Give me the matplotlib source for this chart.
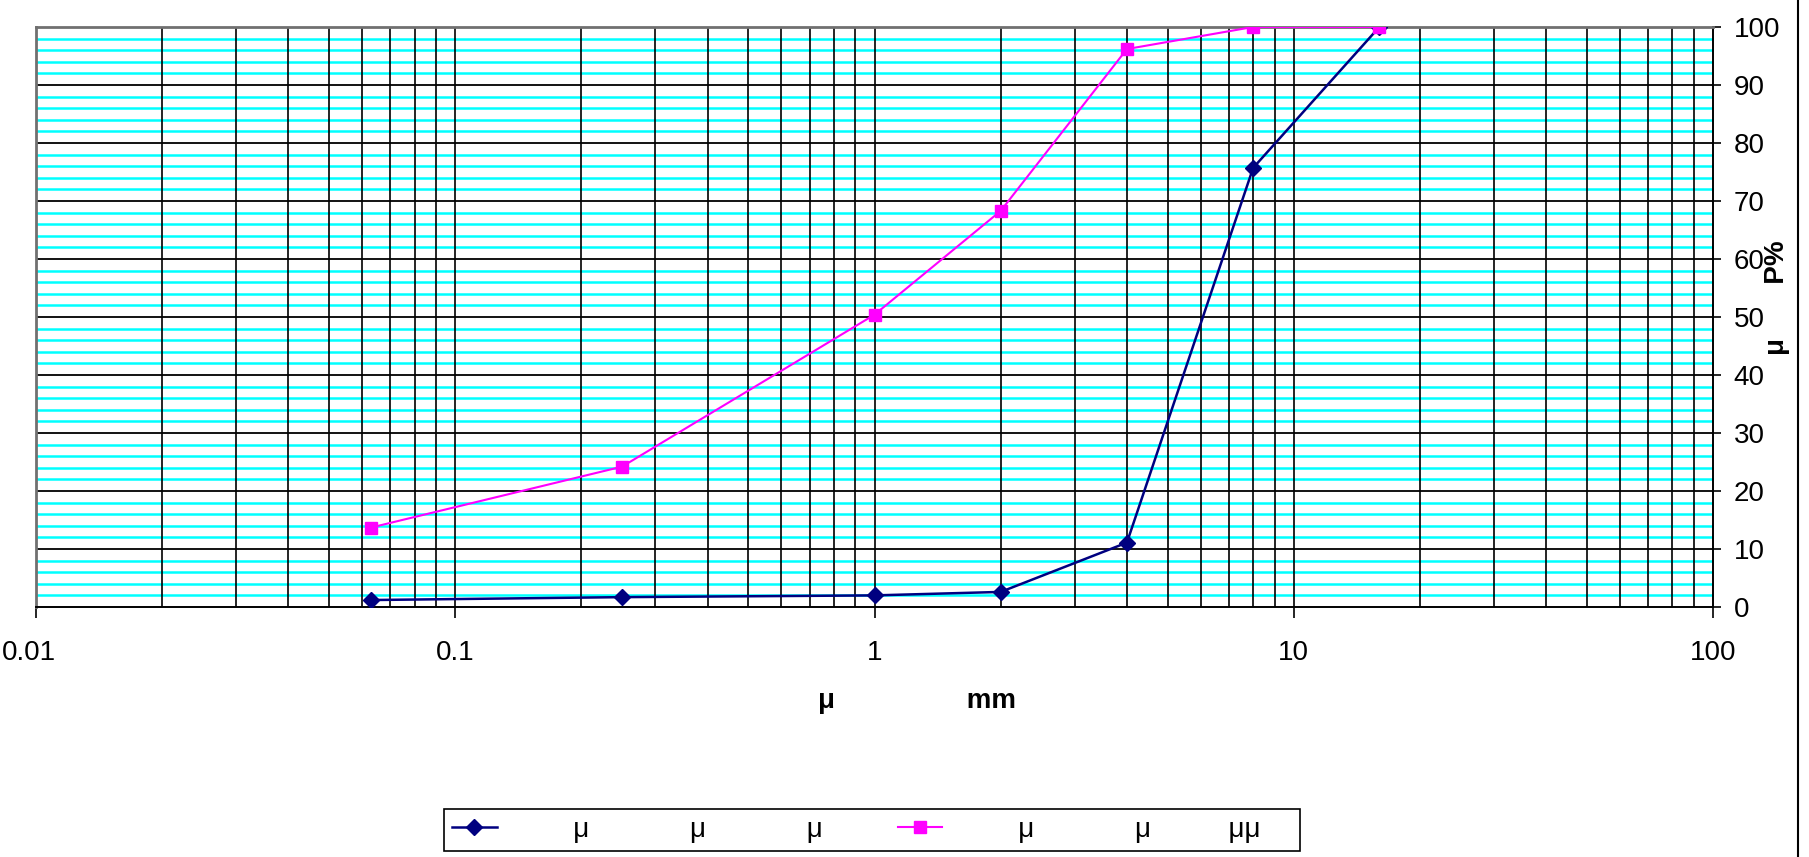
import matplotlib.pyplot as plt
import matplotlib as mpl
from matplotlib.lines import Line2D
from matplotlib.ticker import FixedLocator, NullLocator
from matplotlib.transforms import ScaledTranslation

mpl.rcParams['font.family'] = ['Liberation Sans', 'DejaVu Sans']
mpl.rcParams['font.size'] = 20

## Data

sizes_mm = [0.063, 0.25, 1, 2, 4, 8, 16]
pass_blue = [1.2, 1.7, 2.0, 2.6, 11.1, 75.7, 100]
pass_pink = [13.7, 24.2, 50.4, 68.3, 96.2, 100, 100]

xticks = [0.01, 0.1, 1, 10, 100]
xtick_labels = ['0.01', '0.1', '1', '10', '100']
yticks = list(range(0, 101, 10))

label_blue = ' '*7 + 'μ' + ' '*13 + 'μ' + ' '*13 + 'μ' + ' '*2
label_pink = ' '*7 + 'μ' + ' '*13 + 'μ' + ' '*10 + 'μμ' + ' '*4

## Plotting

fig = plt.figure(figsize=(18.09, 8.57), dpi=100)
ax = fig.add_axes([36/1809, 1-607/857, (1713-36)/1809, (607-27)/857])

ax.set_xscale('log')
ax.set_xlim(0.01, 100)
ax.set_ylim(0, 100)

# grid: cyan minor horizontals, black everything else
minor_x = [m*10.0**e for e in range(-2, 2) for m in range(2, 10)]
for y in range(0, 100):
    if y % 10 in (2, 4, 6, 8):
        ax.axhline(y, color='#00ffff', lw=1.8, zorder=0.5)
for y in yticks[1:-1]:
    ax.axhline(y, color='black', lw=1.3, zorder=0.6)
for x in minor_x + xticks[1:-1]:
    ax.axvline(x, color='black', lw=1.2, zorder=0.6)

ax.plot(sizes_mm, pass_blue, color='#000080', lw=1.8, marker='D', ms=8.5,
        label=label_blue, zorder=3)
ax.plot(sizes_mm, pass_pink, color='#ff00ff', lw=1.5, marker='s', ms=8,
        label=label_pink, zorder=3)

ax.xaxis.set_major_locator(FixedLocator(xticks))
ax.xaxis.set_minor_locator(NullLocator())
ax.set_xticklabels(xtick_labels)
ax.yaxis.set_major_locator(FixedLocator(yticks))
ax.yaxis.tick_right()
ax.tick_params(axis='x', direction='out', length=8, width=1.2, pad=16, labelsize=20)
ax.tick_params(axis='y', direction='out', length=6, width=1.2, pad=9, labelsize=20)

# excel keeps the first label inside the chart area
first = ax.get_xticklabels()[0]
first.set_transform(first.get_transform() + ScaledTranslation(-0.07, 0, fig.dpi_scale_trans))

for s in ('left', 'top'):
    ax.spines[s].set_color('#707070')
    ax.spines[s].set_linewidth(2)
for s in ('bottom', 'right'):
    ax.spines[s].set_color('black')
    ax.spines[s].set_linewidth(1.4)

fig.text(818/1809, 1-701/857, 'μ                 mm', fontsize=20,
         fontweight='bold', ha='left', va='center')
fig.text(1777/1809, 1-298/857, 'μ       P%', fontsize=20, fontweight='bold',
         rotation=90, ha='center', va='center')

fig.add_artist(Line2D([1798/1809]*2, [0, 1], color='black', lw=1.5))

leg = fig.legend(loc='center', bbox_to_anchor=(872/1809, 1-830/857), ncol=2,
                 fontsize=20, frameon=True, fancybox=False, framealpha=1,
                 edgecolor='black', handlelength=1.6, handletextpad=0.8,
                 columnspacing=2.14, borderpad=0.3, borderaxespad=0)
leg.get_frame().set_linewidth(1.2)

fig.savefig('out.png', dpi=100)
